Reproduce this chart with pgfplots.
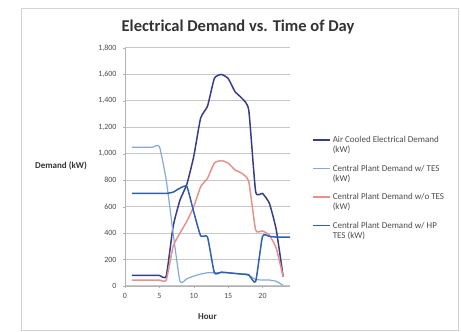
\documentclass[border=0pt]{standalone}
\usepackage{pgfplots}
\pgfplotsset{compat=1.18}
\usepackage{fontspec}
\setmainfont{Carlito}
\definecolor{navy}{HTML}{363E86}
\definecolor{lblue}{HTML}{86A9DA}
\definecolor{pinkc}{HTML}{E5928F}
\definecolor{hpblue}{HTML}{2F5FAE}
\newcommand{\twol}[2]{\begin{tabular}[t]{@{}l@{}}#1\\#2\end{tabular}}
\begin{document}
\begin{tikzpicture}
\useasboundingbox (0pt,0pt) rectangle (461pt,332pt);
\draw[gray!35] (21pt,2pt) rectangle (458pt,324pt);
\node[font=\bfseries\fontsize{16.5}{18}\selectfont, text=black!80] at (238pt,305pt) {Electrical Demand vs. Time of Day};
\node[font=\bfseries\fontsize{9}{10}\selectfont, text=black!80] at (61pt,166pt) {Demand (kW)};
\begin{axis}[at={(125pt,46pt)}, anchor=south west, scale only axis,
  width=165pt, height=238pt,
  xmin=0, xmax=24, ymin=0, ymax=1800,
  xtick={0,5,10,15,20}, ytick={0,200,...,1800},
  axis x line*=bottom, axis y line*=left,
  axis line style={gray!60, -},
  ymajorgrids, grid style={gray!45, line width=1pt},
  tick style={gray!60}, tick align=outside, major tick length=2pt,
  ticklabel style={font=\fontsize{8}{9}\selectfont, text=black!70},
  yticklabel style={xshift=-3pt},
  xticklabel style={yshift=-2pt},
  /pgf/number format/assume math mode=true,
  /pgf/number format/1000 sep={,},
  xlabel={Hour}, xlabel style={font=\bfseries\fontsize{9}{10}\selectfont, text=black!80, yshift=-8pt},
  legend style={at={(1.115,0.648)}, anchor=north west, draw=none, fill=none,
     font=\fontsize{9}{10}\selectfont, text=black!70, row sep=16pt},
  legend cell align=left,
  every axis plot/.append style={line width=1.5pt, smooth, tension=0.3, no markers},
  clip=false,
]
\addplot[navy] coordinates {(1,80)(2,80)(3,80)(4,80)(5,80)(6,75)(7,450)(8,650)(9,770)(10,980)(11,1270)(12,1360)(13,1570)(14,1600)(15,1570)(16,1470)(17,1420)(18,1330)(19,715)(20,700)(21,625)(22,425)(23,70)};
\addlegendentry{\twol{Air Cooled Electrical Demand}{(kW)}}
\addplot[lblue, line width=1.2pt] coordinates {(1,1050)(2,1050)(3,1050)(4,1050)(5,1055)(6,800)(7,400)(8,35)(9,55)(10,75)(11,90)(12,100)(13,100)(14,100)(15,100)(16,95)(17,90)(18,80)(19,50)(20,45)(21,45)(22,35)(23,5)};
\addlegendentry{\twol{Central Plant Demand w/ TES}{(kW)}}
\addplot[pinkc] coordinates {(1,45)(2,45)(3,45)(4,45)(5,45)(6,45)(7,300)(8,400)(9,490)(10,600)(11,750)(12,815)(13,930)(14,948)(15,930)(16,878)(17,852)(18,790)(19,424)(20,416)(21,385)(22,285)(23,70)};
\addlegendentry{\twol{Central Plant Demand w/o TES}{(kW)}}
\addplot[hpblue] coordinates {(1,700)(2,700)(3,700)(4,700)(5,700)(6,700)(7,710)(8,740)(9,752)(10,560)(11,380)(12,370)(13,100)(14,105)(15,100)(16,95)(17,90)(18,85)(19,33)(20,375)(21,375)(22,370)(23,370)(24,370)};
\addlegendentry{\twol{Central Plant Demand w/ HP}{TES (kW)}}
\end{axis}
\end{tikzpicture}
\end{document}
